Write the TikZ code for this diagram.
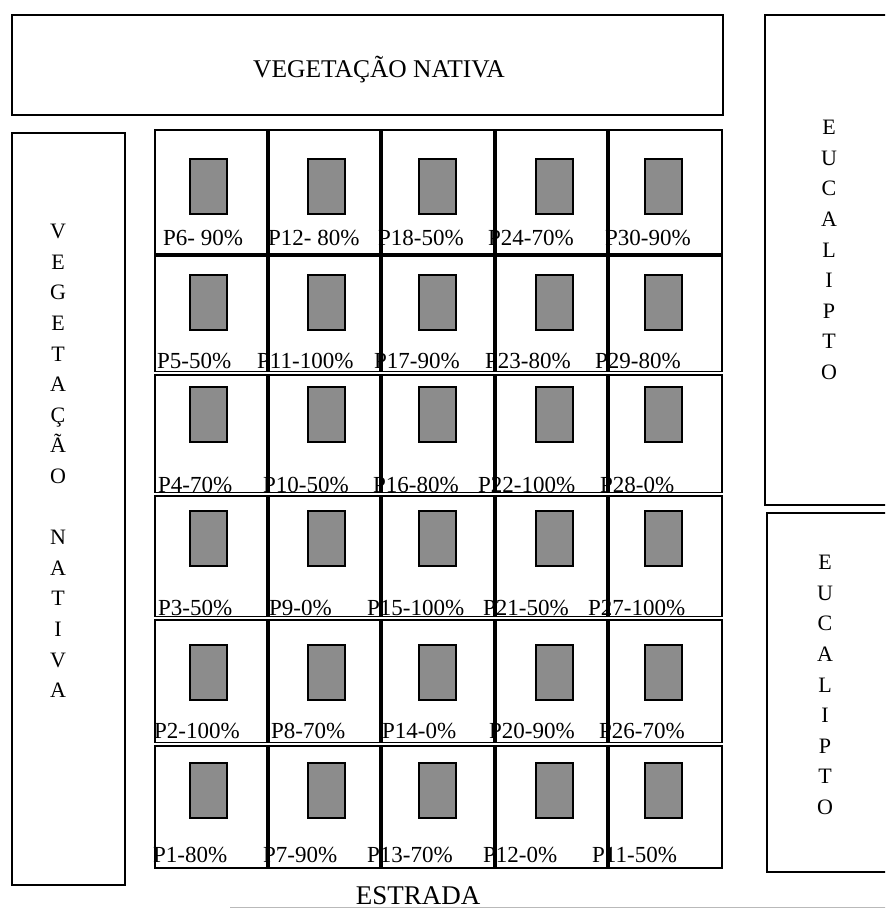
\documentclass[tikz,border=0pt]{standalone}
\usepackage{fontspec}
\setmainfont{Liberation Serif}
\usetikzlibrary{positioning}
\definecolor{plotgray}{RGB}{140,140,140}
\definecolor{roadgray}{RGB}{185,185,185}

\begin{document}
\begin{tikzpicture}[x=1pt,y=-1pt,
        zone/.style={draw,line width=2pt},
        plot/.style={draw,line width=1.6pt},
        sample/.style={draw,line width=2pt,fill=plotgray,minimum width=37pt,minimum height=55pt,inner sep=0pt},
        tag/.style={anchor=base west,inner sep=0pt,font=\fontsize{23}{23}\selectfont},
        letters/.style={anchor=north,align=center,inner sep=0pt,font=\fontsize{22}{30.6}\selectfont}]
        \useasboundingbox (0,0) rectangle (885,909);
        \clip (0,0) rectangle (885,909);

        % surrounding areas
        \draw[zone] (12,15) rectangle (723,115);
        \node[anchor=base,inner sep=0pt,font=\fontsize{25.5}{25.5}\selectfont] (vegtop) at (379,78) {VEGETAÇÃO NATIVA};

        \draw[zone] (12,133) rectangle (125,885);
        \node[letters] (vegleft) at (58,224) {V\\E\\G\\E\\T\\A\\Ç\\Ã\\O\\\mbox{}\\N\\A\\T\\I\\V\\A};

        \draw[zone] (765,15) rectangle (895,505);
        \node[letters] (eucaltop) at (829,120) {E\\U\\C\\A\\L\\I\\P\\T\\O};

        \draw[zone] (767,513) rectangle (895,872);
        \node[letters] (eucalbot) at (825,555) {E\\U\\C\\A\\L\\I\\P\\T\\O};

        % plots
        \foreach \r/\yt/\yb/\ys in {1/130/254.2/187, 2/255.8/371.3/302, 3/374.7/492.3/414,
                4/495.7/616.3/538, 5/619.7/742.3/672, 6/745.7/868/790}
        \foreach \c/\xl/\xr/\xs in {1/155/267.2/208, 2/268.8/380.2/326, 3/381.8/494.2/437,
                4/495.8/607.2/554, 5/608.8/722/663}
        {
            \draw[plot] (\xl,\yt) rectangle (\xr,\yb);
            \node[sample] (s\c\r) at (\xs,\ys) {};
        }

        % plot labels
        \foreach \yb/\la/\xa/\lb/\xb/\lc/\xc/\ld/\xd/\le/\xe in {
                245/P6- 90\%/163/P12- 80\%/268/P18-50\%/378/P24-70\%/488/P30-90\%/605,
                368/P5-50\%/157/P11-100\%/257/P17-90\%/374/P23-80\%/485/P29-80\%/595,
                492/P4-70\%/158/P10-50\%/263/P16-80\%/373/P22-100\%/478/P28-0\%/600,
                615/P3-50\%/158/P9-0\%/269/P15-100\%/367/P21-50\%/483/P27-100\%/588,
                738/P2-100\%/154/P8-70\%/271/P14-0\%/382/P20-90\%/489/P26-70\%/599,
                862/P1-80\%/153/P7-90\%/263/P13-70\%/367/P12-0\%/483/P11-50\%/592}
        {
            \node[tag] at (\xa,\yb) {\la};
            \node[tag] at (\xb,\yb) {\lb};
            \node[tag] at (\xc,\yb) {\lc};
            \node[tag] at (\xd,\yb) {\ld};
            \node[tag] at (\xe,\yb) {\le};
        }

        % road
        \draw[roadgray,line width=1.2pt] (230,907.5) -- (895,907.5);
        \node[anchor=base,inner sep=0pt,font=\fontsize{27}{27}\selectfont] (road) at (418,904) {ESTRADA};
    \end{tikzpicture}
\end{document}
